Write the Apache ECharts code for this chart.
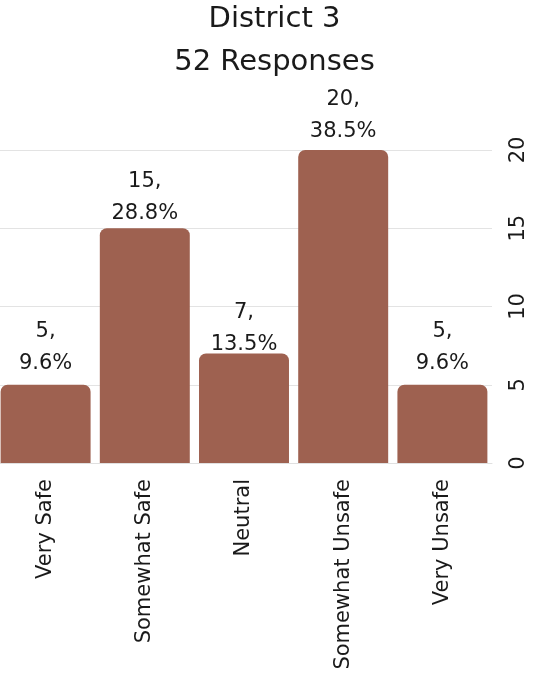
<!DOCTYPE html>
<html>
<head>
<meta charset="utf-8">
<script src="https://cdn.jsdelivr.net/npm/echarts@6/dist/echarts.min.js"></script>
<style>
  html, body { margin: 0; padding: 0; background: #fff; overflow: hidden; }
  #chart { width: 557px; height: 685px; margin-left: -4px; }
</style>
</head>
<body>
<div id="chart"></div>
<script>
// Survey answers for one district
const titleLines = ['District 3', '52 Responses'];
const categories = ['Very Safe', 'Somewhat Safe', 'Neutral', 'Somewhat Unsafe', 'Very Unsafe'];
const counts = [5, 15, 7, 20, 5];
const percents = ['9.6%', '28.8%', '13.5%', '38.5%', '9.6%'];
const yTicks = [0, 5, 10, 15, 20];

// label distance above each bar (px)
const labelGap = [5, -1, -7, 2, 5];

const FONT = '"DejaVu Sans", sans-serif';
const chart = echarts.init(document.getElementById('chart'));

chart.setOption({
  animation: false,
  textStyle: { fontFamily: FONT },
  title: {
    text: titleLines.join('\n'),
    left: 'center',
    top: -7,
    textStyle: { fontFamily: FONT, fontSize: 29, fontWeight: 'normal', color: '#1a1a1a', lineHeight: 43 }
  },
  grid: { left: 0, right: 61, top: 150, bottom: 222, containLabel: false },
  xAxis: {
    type: 'category',
    data: categories,
    axisTick: { show: false },
    axisLine: { show: true, lineStyle: { color: '#e0e0e0' } },
    axisLabel: { rotate: 90, margin: 16, fontSize: 21, color: '#1a1a1a', fontFamily: FONT }
  },
  yAxis: {
    type: 'value',
    position: 'right',
    min: yTicks[0],
    max: yTicks[yTicks.length - 1],
    interval: 5,
    axisLine: { show: false },
    axisTick: { show: false },
    splitLine: { lineStyle: { color: '#e3e3e3' } },
    axisLabel: { rotate: 90, margin: 16, fontSize: 21, color: '#1a1a1a', fontFamily: FONT }
  },
  series: [{
    type: 'bar',
    barCategoryGap: '9.3%',
    data: counts.map((v, i) => ({
      value: v,
      label: { distance: labelGap[i] }
    })),
    itemStyle: { color: '#9e6150', borderRadius: [7, 7, 0, 0] },
    label: {
      show: true,
      position: 'top',
      fontSize: 21,
      lineHeight: 32,
      color: '#1a1a1a',
      fontFamily: FONT,
      formatter: p => p.value + ',\n' + percents[p.dataIndex]
    }
  }]
});
</script>
</body>
</html>
